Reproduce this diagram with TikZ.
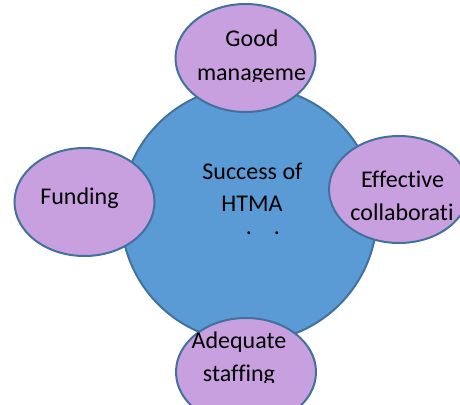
\documentclass[tikz,border=0pt]{standalone}
\usepackage{fontspec}
\setmainfont[Ligatures=NoCommon]{Carlito}
\usetikzlibrary{shapes.geometric}
\definecolor{hubblue}{RGB}{91,155,213}
\definecolor{edgeblue}{RGB}{65,113,156}
\definecolor{petal}{RGB}{200,160,224}
\tikzset{
  hub/.style={circle, draw=edgeblue, fill=hubblue, line width=2pt, minimum size=256pt, inner sep=0pt},
  petalnode/.style={ellipse, draw=edgeblue, fill=petal, line width=2pt, minimum width=140pt, minimum height=108pt, inner sep=0pt},
  lbl/.style={anchor=base, inner sep=0pt, font=\fontsize{24}{33}\selectfont}
}
\begin{document}
\begin{tikzpicture}[x=1pt,y=-1pt]
\useasboundingbox (0,0) rectangle (460,404);
\clip (0,0) rectangle (460,404);
\node[hub] (hub) at (249,214) {};
\node[petalnode] (good) at (245.5,58) {};
\node[petalnode] (fund) at (84.5,202) {};
\node[petalnode, minimum height=107pt] (eff) at (399,189.5) {};
\node[petalnode] (adq) at (246,372) {};
% hub text
\node[lbl] (t1) at (252.5,179) {Success of};
\node[lbl] (t2) at (252,211.5) {HTMA};
\node[lbl] (d1) at (249,234) {.};
\node[lbl] (d2) at (277,234) {.};
% petals text
\node[lbl] (g1) at (252,47) {Good};
\begin{scope}
\clip (170,50) rectangle (330,81);
\node[lbl] (g2) at (251.5,80) {manageme};
\end{scope}
\node[lbl] (f1) at (79.5,204) {Funding};
\node[lbl] (e1) at (402.5,187) {Effective};
\node[lbl] (e2) at (402,220) {collaborati};
\node[lbl] (a1) at (239,348) {Adequate};
\begin{scope}
\clip (170,352) rectangle (330,382);
\node[lbl] (a2) at (239,381) {staffing};
\end{scope}
\end{tikzpicture}
\end{document}
